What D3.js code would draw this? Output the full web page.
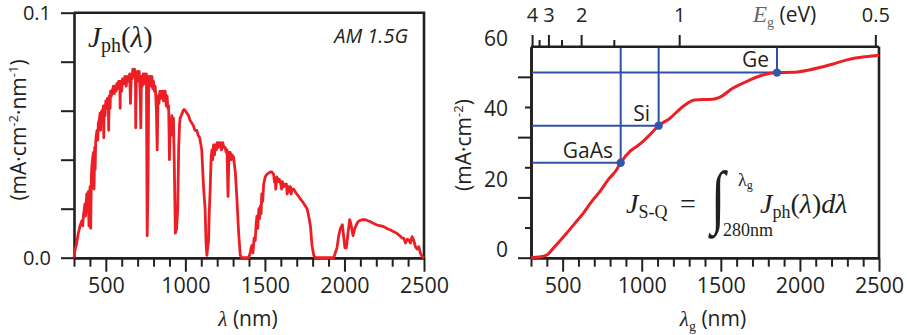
<!DOCTYPE html>
<html><head><meta charset="utf-8">
<script src="https://cdn.jsdelivr.net/npm/d3@7"></script>
<style>
body{margin:0;background:#fff;}
svg{display:block;}
.ax path,.ax line{stroke:#231f20;}
text{fill:#231f20;}
</style></head>
<body><svg id="c" width="907" height="335"></svg>
<script>
// ---------- data ----------
const wavelength = [300,306,317,327,338,349,355,359,365,369,372,375,380,383,386,390,394,398,401,405,409,413,418,422,426,430,433,436,440,445,449,453,458,464,467,470,475,480,485,487,490,495,500,505,510,516,518,521,527,530,535,540,548,553,560,565,569,575,580,588,590,592,600,605,613,620,628,635,642,650,655,660,665,670,675,680,686,688,692,697,700,705,710,716,720,724,729,735,740,745,750,755,760,765,770,775,780,785,790,795,800,805,810,814,818,823,828,834,840,846,855,862,868,873,880,885,890,895,900,905,910,915,920,925,930,937,945,952,958,963,967,974,980,986,992,1000,1010,1020,1030,1040,1050,1060,1072,1080,1090,1098,1103,1114,1124,1130,1135,1140,1146,1150,1156,1162,1167,1172,1177,1183,1188,1195,1200,1207,1213,1219,1227,1235,1242,1250,1256,1262,1268,1274,1282,1288,1293,1303,1310,1314,1324,1335,1345,1355,1397,1408,1413,1418,1425,1432,1439,1445,1450,1455,1462,1467,1471,1476,1480,1486,1492,1502,1512,1523,1535,1544,1555,1560,1565,1568,1575,1583,1590,1597,1605,1610,1618,1625,1635,1640,1648,1655,1660,1665,1670,1681,1690,1700,1712,1723,1735,1745,1755,1765,1775,1786,1796,1807,1815,1932,1953,1964,1975,1987,1996,2003,2012,2022,2033,2040,2054,2065,2079,2090,2110,2132,2160,2184,2205,2230,2247,2270,2289,2310,2331,2350,2363,2373,2384,2395,2405,2415,2425,2436,2446,2457,2467,2478,2488,2500];
const photonCurrent = [0.000,0.003,0.006,0.010,0.013,0.015,0.013,0.017,0.020,0.022,0.017,0.019,0.026,0.020,0.024,0.027,0.013,0.025,0.029,0.012,0.033,0.038,0.041,0.043,0.028,0.045,0.036,0.047,0.050,0.052,0.048,0.055,0.056,0.059,0.052,0.059,0.060,0.058,0.062,0.049,0.062,0.058,0.064,0.061,0.065,0.063,0.052,0.066,0.061,0.068,0.066,0.068,0.070,0.067,0.070,0.068,0.071,0.069,0.072,0.072,0.061,0.072,0.068,0.073,0.071,0.074,0.070,0.074,0.072,0.075,0.063,0.075,0.073,0.077,0.074,0.077,0.075,0.053,0.075,0.072,0.076,0.074,0.076,0.067,0.053,0.074,0.070,0.075,0.071,0.075,0.073,0.075,0.009,0.030,0.074,0.071,0.074,0.070,0.074,0.069,0.072,0.068,0.070,0.066,0.060,0.044,0.066,0.063,0.068,0.065,0.068,0.064,0.068,0.068,0.062,0.066,0.061,0.062,0.040,0.055,0.050,0.058,0.053,0.057,0.040,0.010,0.012,0.020,0.045,0.054,0.057,0.058,0.059,0.060,0.0605,0.060,0.059,0.058,0.056,0.055,0.054,0.052,0.052,0.050,0.049,0.046,0.044,0.029,0.020,0.006,0.001,0.004,0.007,0.018,0.028,0.041,0.044,0.040,0.046,0.042,0.046,0.044,0.047,0.045,0.047,0.047,0.044,0.047,0.045,0.045,0.043,0.044,0.025,0.043,0.043,0.040,0.042,0.041,0.037,0.035,0.024,0.010,0.001,0.000,0.000,0.002,0.004,0.005,0.002,0.008,0.007,0.014,0.017,0.012,0.020,0.016,0.021,0.018,0.026,0.023,0.030,0.033,0.034,0.0345,0.035,0.035,0.034,0.031,0.032,0.028,0.033,0.031,0.032,0.031,0.028,0.031,0.029,0.030,0.030,0.026,0.029,0.027,0.029,0.026,0.028,0.028,0.027,0.026,0.025,0.024,0.023,0.022,0.021,0.020,0.017,0.013,0.005,0.001,0.000,0.000,0.004,0.009,0.012,0.0135,0.008,0.004,0.004,0.010,0.0155,0.014,0.009,0.012,0.014,0.015,0.0155,0.0155,0.0148,0.014,0.0133,0.013,0.0127,0.0118,0.0113,0.0106,0.0099,0.0088,0.0080,0.0079,0.0060,0.0075,0.0072,0.0060,0.0086,0.0070,0.0045,0.0035,0.0045,0.0018,0.0004,0.000];

const bandgapWavelength = [300,350,400,440,483,525,577,630,683,735,787,840,867,924,938,966,1007,1050,1107,1177,1259,1334,1386,1429,1492,1575,1681,1765,1855,1952,2059,2205,2311,2417,2500];
const sqCurrent = [0,0.2,0.9,3.1,5.6,8.1,11.4,14.7,18.6,21.9,25.8,29.1,31.5,35.2,35.8,36.8,38.5,40.7,43.8,46.2,50.1,52.3,52.5,52.5,53.2,56.2,58.9,60.6,61.4,61.5,62.3,64.2,65.8,66.7,67.2];

const materials = ["GaAs","Si","Ge"];
const materialWavelength = [867,1107,1855];
const materialCurrent = [31.5,43.8,61.4];

const xMajorTicks = [500,1000,1500,2000,2500];
const xMinorTicks = [300,400,600,700,800,900,1100,1200,1300,1400,1600,1700,1800,1900,2100,2200,2300,2400];
const leftYTicks = [0,0.02,0.04,0.06,0.08,0.1];
const leftYLabels = [0,0.1];
const rightYMajor = [0,20,40,60];
const rightYMinor = [10,30,50];
const rightYLabels = [0,20,40,60];
const energyMajor = [4,3,2,1,0.5];
const energyMinor = [3.5,2.5,1.5];

// ---------- drawing ----------
const svg = d3.select("#c");
const SANS = "'Open Sans', 'Noto Sans', sans-serif";
const SERIF = "'Liberation Serif', 'DejaVu Serif', serif";
const RED = "#ec1f26", BLUE = "#2f52a2", INK = "#231f20";

const xL = d3.scaleLinear([300,2500],[74,424]);
const yL = d3.scaleLinear([0,0.1],[257.7,12.7]);
const xR = d3.scaleLinear([300,2500],[531,879]);
const yR = d3.scaleLinear([0,70],[257.7,46.7]);
const yRLabel = d3.scaleLinear([0,60],[257.7,46.7]);

function styleAxis(g, w){
  g.attr("class","ax");
  g.select(".domain").attr("stroke-width",w||2.6);
  g.selectAll(".tick line").attr("stroke-width",2);
}
function xAxes(x, y0){
  svg.append("g").attr("transform",`translate(0,${y0})`)
    .call(d3.axisBottom(x).tickValues(xMinorTicks).tickSize(9).tickFormat("").tickSizeOuter(0))
    .call(g=>{styleAxis(g);});
  svg.append("g").attr("transform",`translate(0,${y0})`)
    .call(d3.axisBottom(x).tickValues(xMajorTicks).tickSize(14).tickPadding(6).tickSizeOuter(0).tickFormat(d3.format("d")))
    .call(g=>{styleAxis(g); g.selectAll("text").attr("font-family",SANS).attr("font-size",21.5).attr("fill",INK);});
}

// ===== LEFT PANEL =====
xAxes(xL, 257.7);
svg.append("g").attr("transform","translate(74,0)")
  .call(d3.axisLeft(yL).tickValues(leftYTicks).tickSize(13).tickFormat("").tickSizeOuter(0))
  .call(g=>styleAxis(g));
svg.append("g").attr("transform","translate(74,0)")
  .call(d3.axisLeft(yL).tickValues(leftYLabels).tickSize(0).tickPadding(23).tickFormat(d3.format(".1f")))
  .call(g=>{g.select(".domain").remove(); g.selectAll("text").attr("font-family",SANS).attr("font-size",20).attr("fill",INK);});
// frame
svg.append("path").attr("d",`M${xL(300)},${yL(0.1)}H${xL(2500)}V${yL(0)}`).attr("fill","none").attr("stroke",INK).attr("stroke-width",2.6);

svg.append("path").datum(wavelength.map((w,i)=>[w,photonCurrent[i]]))
  .attr("d",d3.line().x(d=>xL(d[0])).y(d=>yL(d[1])))
  .attr("fill","none").attr("stroke",RED).attr("stroke-width",2.8).attr("stroke-linejoin","round");

// labels
const jl = svg.append("text").attr("x",88).attr("y",47).attr("font-family",SERIF).attr("font-size",29);
jl.append("tspan").attr("font-style","italic").text("J");
jl.append("tspan").attr("font-size",20).attr("dy",5).text("ph");
jl.append("tspan").attr("dy",-5).text("(");
jl.append("tspan").attr("font-style","italic").text("λ");
jl.append("tspan").text(")");
svg.append("text").attr("x",408).attr("y",43).attr("text-anchor","end").attr("font-family",SANS).attr("font-style","italic").attr("font-size",20).text("AM 1.5G");

const xtL = svg.append("text").attr("x",248).attr("y",326).attr("text-anchor","middle").attr("font-family",SANS).attr("font-size",21);
xtL.append("tspan").attr("font-family",SERIF).attr("font-style","italic").text("λ");
xtL.append("tspan").text(" (nm)");

const ytL = svg.append("text").attr("transform","translate(26,130) rotate(-90)").attr("text-anchor","middle").attr("font-family",SANS).attr("font-size",21);
ytL.append("tspan").text("(mA·cm");
ytL.append("tspan").attr("font-size",13).attr("dy",-8).text("-2");
ytL.append("tspan").attr("dy",8).text("·nm");
ytL.append("tspan").attr("font-size",13).attr("dy",-8).text("-1");
ytL.append("tspan").attr("dy",8).text(")");

// ===== RIGHT PANEL =====
xAxes(xR, 257.7);
svg.append("g").attr("transform","translate(531,0)")
  .call(d3.axisLeft(yR).tickValues(rightYMinor).tickSize(6).tickFormat("").tickSizeOuter(0))
  .call(g=>styleAxis(g));
svg.append("g").attr("transform","translate(531,0)")
  .call(d3.axisLeft(yR).tickValues(rightYMajor).tickSize(13).tickFormat("").tickSizeOuter(0))
  .call(g=>styleAxis(g));
svg.append("g").attr("transform","translate(531,0)")
  .call(d3.axisLeft(yRLabel).tickValues(rightYLabels).tickSize(0).tickPadding(23).tickFormat(d3.format("d")))
  .call(g=>{g.select(".domain").remove(); g.selectAll("text").attr("font-family",SANS).attr("font-size",21).attr("fill",INK).attr("dy","-0.05em");});

// top energy axis
const eScale = e => xR(1240/e);
const topG = svg.append("g").attr("class","ax");
topG.append("line").attr("x1",531).attr("x2",879).attr("y1",46.7).attr("y2",46.7).attr("stroke",INK).attr("stroke-width",2.6);
topG.selectAll("line.maj").data(energyMajor).join("line").attr("class","maj")
  .attr("x1",eScale).attr("x2",eScale).attr("y1",46.7).attr("y2",35).attr("stroke",INK).attr("stroke-width",2);
topG.selectAll("line.min").data(energyMinor).join("line").attr("class","min")
  .attr("x1",eScale).attr("x2",eScale).attr("y1",46.7).attr("y2",40).attr("stroke",INK).attr("stroke-width",2);
topG.selectAll("text").data(energyMajor).join("text")
  .attr("x",eScale).attr("y",22).attr("text-anchor","middle").attr("font-family",SANS).attr("font-size",20).text(d=>d);
const et = svg.append("text").attr("x",753).attr("y",22).attr("font-family",SANS).attr("font-size",21);
et.append("tspan").attr("font-family",SERIF).attr("font-style","italic").attr("fill","#666").attr("font-size",23).text("E");
et.append("tspan").attr("font-family",SERIF).attr("font-size",14).attr("dy",5).attr("fill","#666").text("g");
et.append("tspan").attr("dy",-5).text(" (eV)");

// frame right side
svg.append("path").attr("d",`M${xR(2500)},${yR(70)}V${yR(0)}`).attr("fill","none").attr("stroke",INK).attr("stroke-width",2.6);

// material guide lines
materials.forEach((m,i)=>{
  const x = xR(materialWavelength[i]), y = yR(materialCurrent[i]);
  svg.append("line").attr("x1",xR(300)+1).attr("x2",x).attr("y1",y).attr("y2",y).attr("stroke",BLUE).attr("stroke-width",2);
  svg.append("line").attr("x1",x).attr("x2",x).attr("y1",yR(70)+1).attr("y2",y).attr("stroke",BLUE).attr("stroke-width",2);
});

svg.append("path").datum(bandgapWavelength.map((w,i)=>[w,sqCurrent[i]]))
  .attr("d",d3.line().curve(d3.curveMonotoneX).x(d=>xR(d[0])).y(d=>yR(d[1])))
  .attr("fill","none").attr("stroke",RED).attr("stroke-width",3);

materials.forEach((m,i)=>{
  svg.append("circle").attr("cx",xR(materialWavelength[i])).attr("cy",yR(materialCurrent[i])).attr("r",4.2).attr("fill","#3556a6");
});
const labelPos = [[613,158],[650,121],[769,67]];
materials.forEach((m,i)=>{
  svg.append("text").attr("x",labelPos[i][0]).attr("y",labelPos[i][1]).attr("text-anchor","end")
    .attr("font-family",SANS).attr("font-size",21).text(m);
});

// formula
const f1 = svg.append("text").attr("x",626).attr("y",213).attr("font-family",SERIF).attr("font-size",28);
f1.append("tspan").attr("font-style","italic").text("J");
f1.append("tspan").attr("font-size",18).attr("dy",5).text("S-Q");
svg.append("text").attr("x",680).attr("y",213).attr("font-family",SERIF).attr("font-size",28).text("=");
svg.append("text").attr("transform","translate(711,220) scale(1,1.35)").attr("font-family",SERIF).attr("font-size",52).attr("font-style","italic").text("∫");
const sup = svg.append("text").attr("x",738).attr("y",186).attr("font-family",SERIF).attr("font-size",18);
sup.append("tspan").text("λ");
sup.append("tspan").attr("font-size",12).attr("dy",3).text("g");
svg.append("text").attr("x",723).attr("y",236).attr("font-family",SERIF).attr("font-size",18).text("280nm");
const f2 = svg.append("text").attr("x",760).attr("y",213).attr("font-family",SERIF).attr("font-size",28);
f2.append("tspan").attr("font-style","italic").text("J");
f2.append("tspan").attr("font-size",18).attr("dy",5).text("ph");
f2.append("tspan").attr("dy",-5).text("(");
f2.append("tspan").attr("font-style","italic").text("λ");
f2.append("tspan").text(")");
f2.append("tspan").attr("font-style","italic").text("dλ");

const xtR = svg.append("text").attr("x",713).attr("y",326).attr("text-anchor","middle").attr("font-family",SANS).attr("font-size",21);
xtR.append("tspan").attr("font-family",SERIF).attr("font-style","italic").text("λ");
xtR.append("tspan").attr("font-family",SERIF).attr("font-size",14).attr("dy",5).text("g");
xtR.append("tspan").attr("dy",-5).text(" (nm)");

const ytR = svg.append("text").attr("transform","translate(471,145) rotate(-90)").attr("text-anchor","middle").attr("font-family",SANS).attr("font-size",21);
ytR.append("tspan").text("(mA·cm");
ytR.append("tspan").attr("font-size",13).attr("dy",-8).text("-2");
ytR.append("tspan").attr("dy",8).text(")");
</script></body></html>
